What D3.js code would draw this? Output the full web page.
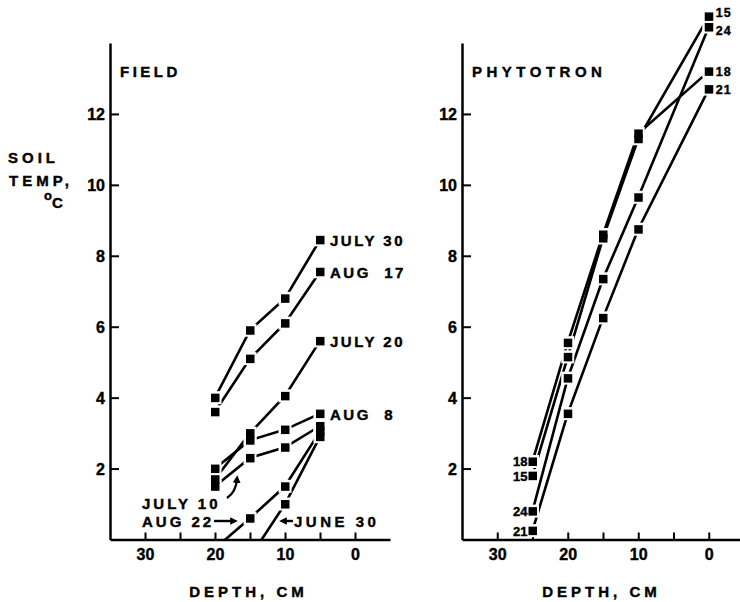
<!DOCTYPE html>
<html>
<head>
<meta charset="utf-8">
<script src="https://cdn.jsdelivr.net/npm/d3@7"></script>
<style>
  body { margin: 0; background: #fff; }
  svg text { font-family: "Liberation Sans", Arial, sans-serif; font-weight: bold; fill: #000; stroke: #000; stroke-width: 0.4; }
  .axis path, .axis line { stroke: #000; }
  .axis path { stroke-width: 2.5; }
  .axis line { stroke-width: 2; }
  .axis text { font-size: 16px; }
  .line { fill: none; stroke: #000; stroke-width: 2.6; }
</style>
</head>
<body>
<div id="chart"></div>
<script>
// field panel: soil temp (C) at depth (cm)
const fieldDepths = [20, 15, 10, 5];
const july30 = [4.0, 5.9, 6.8, 8.45];
const aug17 = [3.6, 5.1, 6.1, 7.55];
const july20 = [1.7, 3.0, 4.05, 5.6];
const aug8 = [2.0, 2.8, 3.1, 3.55];
const july10 = [1.5, 2.3, 2.6, 3.2];
const aug22 = [-0.25, 0.6, 1.5, 3.05];
const june30 = [null, -0.5, 1.0, 2.9];

// phytotron panel
const phytoDepths = [25, 20, 15, 10, 0];
const p15 = [1.8, 5.15, 8.5, 11.3, 14.75];
const p18 = [2.2, 5.55, 8.6, 11.45, 13.2];
const p21 = [0.25, 3.55, 6.25, 8.75, 12.7];
const p24 = [0.8, 4.55, 7.35, 9.65, 14.45];

const yTicks = [2, 4, 6, 8, 10, 12];
const xTicks = [30, 25, 20, 15, 10, 5, 0];
const xLabels = [30, 20, 10, 0];

const svg = d3.select('#chart').append('svg')
    .attr('width', 740)
    .attr('height', 602);

let defs = svg.append('defs');
defs.append('marker')
    .attr('id', 'head')
    .attr('viewBox', '0 0 10 10')
    .attr('refX', 5).attr('refY', 5)
    .attr('markerWidth', 3.2).attr('markerHeight', 3.2)
    .attr('orient', 'auto')
  .append('path')
    .attr('d', 'M0,0L10,5L0,10z')
    .attr('fill', '#000');

function makeSeries(depths, values) {
  return depths.map((d, i) => ({x: d, y: values[i]})).filter(p => p.y != null);
}

function drawPanel(opts) {
  let x = d3.scaleLinear().domain([35, -5]).range(opts.xRange);
  let y = d3.scaleLinear().domain([0, 14]).range([539.5, 43]);
  let g = svg.append('g');

  // clip so lines stop at the depth axis
  let clipId = 'clip-' + opts.id;
  g.append('clipPath').attr('id', clipId)
    .append('rect')
      .attr('x', x(35)).attr('y', 0)
      .attr('width', x(-5) - x(35)).attr('height', y(0));

  g.append('g')
      .attr('class', 'axis')
      .attr('transform', 'translate(' + x(35) + ',0)')
      .call(d3.axisLeft(y).tickValues(yTicks).tickSize(-9).tickSizeOuter(0).tickPadding(5))
    .selectAll('text')
      .attr('dy', '0.36em');

  g.append('g')
      .attr('class', 'axis')
      .attr('transform', 'translate(0,' + y(0) + ')')
      .call(d3.axisBottom(x).tickValues(xTicks).tickSize(-7).tickSizeOuter(0).tickPadding(9)
        .tickFormat(d => xLabels.includes(d) ? d : ''));

  let line = d3.line().x(d => x(d.x)).y(d => y(d.y));
  let series = opts.series.map(s => makeSeries(opts.depths, s));

  g.append('g').attr('clip-path', 'url(#' + clipId + ')')
    .selectAll('.line')
    .data(series)
    .enter().append('path')
      .attr('class', 'line')
      .attr('d', line);

  let pts = series.flat().filter(p => p.y >= 0);
  // white halo first so lines break a little before each square
  g.selectAll('.halo')
      .data(pts)
    .enter().append('rect')
      .attr('class', 'halo')
      .attr('x', d => x(d.x) - 6.5).attr('y', d => y(d.y) - 6.5)
      .attr('width', 13).attr('height', 13)
      .attr('fill', '#fff');
  g.selectAll('.dot')
      .data(pts)
    .enter().append('rect')
      .attr('class', 'dot')
      .attr('x', d => x(d.x) - 4).attr('y', d => y(d.y) - 4)
      .attr('width', 8.5).attr('height', 8.5)
      .attr('fill', '#000');

  g.append('text')
      .attr('x', x(35) + 10).attr('y', 77)
      .style('font-size', '15px')
      .style('letter-spacing', opts.titleSpacing)
      .text(opts.title);

  g.append('text')
      .attr('x', (x(32) + x(-1)) / 2 + 2).attr('y', 597)
      .style('font-size', '15px')
      .style('letter-spacing', '4px')
      .attr('text-anchor', 'middle')
      .text('DEPTH, CM');

  return {g: g, x: x, y: y};
}

let left = drawPanel({
  id: 'field', xRange: [110, 390], title: 'FIELD', titleSpacing: '3.5px',
  depths: fieldDepths,
  series: [july30, aug17, july20, aug8, july10, aug22, june30]
});

let right = drawPanel({
  id: 'phyto', xRange: [462, 744], title: 'PHYTOTRON', titleSpacing: '4.5px',
  depths: phytoDepths,
  series: [p15, p18, p21, p24]
});

// y axis title
svg.append('g').selectAll('text')
    .data([['SOIL', 8, 163], ['TEMP,', 9, 186]])
  .enter().append('text')
    .attr('x', d => d[1]).attr('y', d => d[2])
    .style('font-size', '15px')
    .style('letter-spacing', '4px')
    .text(d => d[0]);
svg.append('text')
    .attr('x', 44).attr('y', 200)
    .style('font-size', '13px')
    .text('o');
svg.append('text')
    .attr('x', 52).attr('y', 208)
    .style('font-size', '15px')
    .text('C');

// field curve names next to the shallowest point
let fieldNames = [['JULY 30', july30], ['AUG  17', aug17], ['JULY 20', july20], ['AUG  8', aug8]];
left.g.selectAll('.name')
    .data(fieldNames)
  .enter().append('text')
    .attr('class', 'name')
    .attr('x', left.x(5) + 10)
    .attr('y', d => left.y(d[1][3]) + 6)
    .style('font-size', '15px')
    .style('letter-spacing', '2.5px')
    .style('white-space', 'pre')
    .text(d => d[0]);

left.g.append('text')
    .attr('x', 142).attr('y', 509)
    .style('font-size', '15px').style('letter-spacing', '3px')
    .text('JULY 10');
left.g.append('text')
    .attr('x', 142).attr('y', 527)
    .style('font-size', '15px').style('letter-spacing', '3px')
    .text('AUG 22');
left.g.append('text')
    .attr('x', 294).attr('y', 527)
    .style('font-size', '15px').style('letter-spacing', '3.5px')
    .text('JUNE 30');

// pointer arrows
let arrows = ['M227,498 Q236,492 237,479', 'M214,521 L234,521', 'M293,521 L283,521'];
left.g.selectAll('.arrow')
    .data(arrows)
  .enter().append('path')
    .attr('class', 'arrow')
    .attr('d', d => d)
    .attr('fill', 'none')
    .attr('stroke', '#000')
    .attr('stroke-width', 2.4)
    .attr('marker-end', 'url(#head)');

// phytotron labels, left end and right end (last field nudges the text)
let phytoNames = [['15', p15, 1], ['18', p18, 5], ['21', p21, 5], ['24', p24, 8]];
right.g.selectAll('.lname')
    .data(phytoNames)
  .enter().append('text')
    .attr('class', 'lname')
    .attr('x', right.x(25) - 5)
    .attr('y', d => right.y(d[1][0]) + 5)
    .attr('text-anchor', 'end')
    .style('font-size', '13px')
    .text(d => d[0]);
right.g.selectAll('.rname')
    .data(phytoNames)
  .enter().append('text')
    .attr('class', 'rname')
    .attr('x', right.x(0) + 7)
    .attr('y', d => right.y(d[1][4]) + d[2])
    .style('font-size', '12.5px')
    .style('letter-spacing', '1px')
    .text(d => d[0]);
</script>
</body>
</html>
